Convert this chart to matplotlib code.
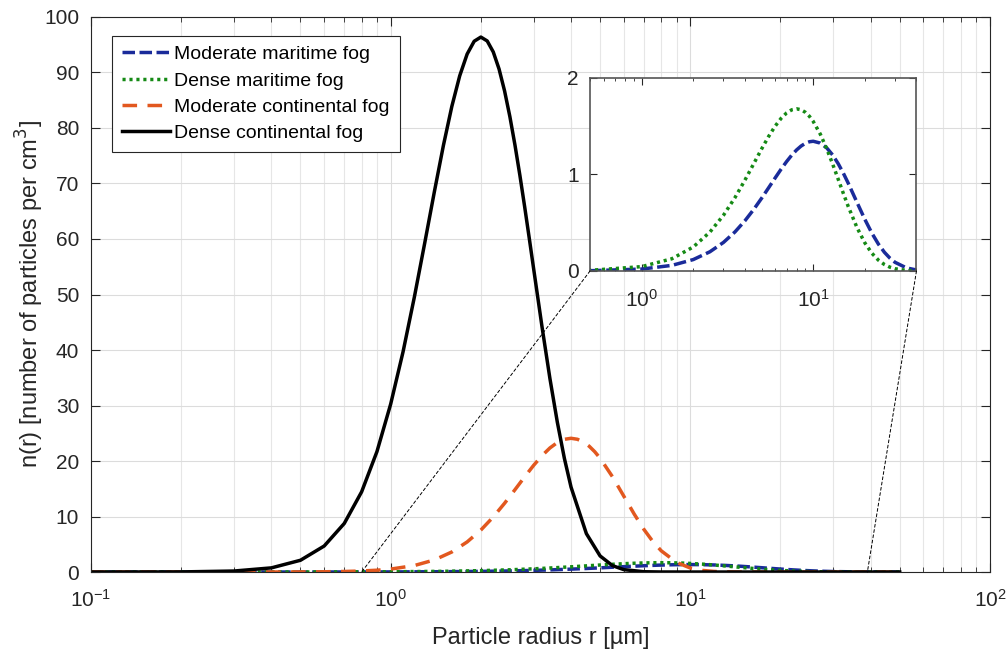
import matplotlib
matplotlib.use('Agg')
import matplotlib.pyplot as plt
from matplotlib.patches import ConnectionPatch

plt.rcParams['font.family'] = ['Liberation Sans', 'DejaVu Sans']
plt.rcParams['axes.unicode_minus'] = False

# Kurvendaten (Radius in µm, Teilchenzahl pro cm^3)
r_black = [0.1, 0.2, 0.3, 0.4, 0.5, 0.6, 0.7, 0.8, 0.9, 1.0,
           1.1, 1.2, 1.3, 1.4, 1.5, 1.6, 1.7, 1.8, 1.9, 2.0,
           2.1, 2.2, 2.3, 2.4, 2.5, 2.6, 2.7, 2.8, 2.9, 3.0,
           3.2, 3.4, 3.6, 3.8, 4.0, 4.5, 5.0, 5.5, 6.0, 7.0, 8.0, 10, 20, 50]
n_black = [0.00045, 0.0213, 0.180, 0.750, 2.12, 4.69, 8.75, 14.45, 21.70, 30.25,
           39.69, 49.56, 59.35, 68.59, 76.87, 83.88, 89.40, 93.32, 95.63, 96.38,
           95.68, 93.70, 90.63, 86.67, 82.03, 76.89, 71.44, 65.83, 60.20, 54.66,
           44.18, 34.88, 26.98, 20.48, 15.29, 6.92, 2.90, 1.15, 0.43, 0.054, 0.006, 0.0001, 0, 0]

r_orange = [0.1, 0.2, 0.3, 0.4, 0.5, 0.6, 0.7, 0.8, 0.9, 1.0,
            1.2, 1.4, 1.6, 1.8, 2.0, 2.2, 2.4, 2.6, 2.8, 3.0,
            3.2, 3.4, 3.6, 3.8, 4.0, 4.2, 4.4, 4.6, 4.8, 5.0,
            5.5, 6.0, 6.5, 7.0, 7.5, 8.0, 9, 10, 11, 12, 14, 16, 20, 50]
n_orange = [0.0, 0.0001, 0.0011, 0.0053, 0.0175, 0.045, 0.098, 0.187, 0.327, 0.530,
            1.171, 2.188, 3.612, 5.424, 7.561, 9.924, 12.391, 14.839, 17.149, 19.218,
            20.970, 22.350, 23.331, 23.907, 24.094, 23.919, 23.425, 22.658, 21.669, 20.508,
            17.162, 13.664, 10.433, 7.688, 5.494, 3.822, 1.729, 0.726, 0.287, 0.108, 0.0136, 0.0015, 0.0, 0.0]

r_mar = [0.1, 0.2, 0.5, 1.0, 1.5, 2.0, 2.5, 3.0, 3.5, 4.0, 4.5, 5.0, 5.5, 6.0, 6.5,
         7.0, 7.5, 8.0, 8.5, 9.0, 9.5, 10, 11, 12, 13, 14, 15, 16, 18, 20,
         22, 24, 26, 28, 30, 35, 40, 45, 50]
n_green = [0.0001, 0.0005, 0.0068, 0.0453, 0.1268, 0.2491, 0.4033, 0.5779, 0.7606, 0.9414,
           1.1112, 1.2636, 1.3944, 1.5007, 1.5817, 1.6379, 1.6701, 1.6804, 1.6709, 1.6444,
           1.6034, 1.5503, 1.4182, 1.2654, 1.1058, 0.9492, 0.8024, 0.6693, 0.4501, 0.2917,
           0.1834, 0.1125, 0.0675, 0.0398, 0.0232, 0.0056, 0.0013, 0.0003, 0.0001]
n_blue = [0.0, 0.0002, 0.0029, 0.0200, 0.0581, 0.1185, 0.1993, 0.2964, 0.4051, 0.5205,
          0.6378, 0.7531, 0.8627, 0.9640, 1.0549, 1.1341, 1.2006, 1.2541, 1.2947, 1.3228,
          1.3390, 1.3443, 1.3255, 1.2748, 1.2007, 1.1110, 1.0123, 0.9101, 0.7112, 0.5354,
          0.3911, 0.2787, 0.1944, 0.1333, 0.0900, 0.0319, 0.0106, 0.0034, 0.0010]

labels = ['Moderate maritime fog', 'Dense maritime fog',
          'Moderate continental fog', 'Dense continental fog']

# Farben und Linienstile
BLUE = '#1a2b9a'
GREEN = '#158a15'
ORANGE = '#e2581f'
BLACK = 'black'
AXIS_COLOR = '#262626'
LW = 2.5
TICK_FS = 15

fig = plt.figure(figsize=(10.06, 6.53), dpi=100)
ax = fig.add_axes([0.0905, 0.124, 0.8935, 0.850])

ax.plot(r_mar, n_blue, color=BLUE, lw=LW, ls=(0, (3.6, 1.3)), label=labels[0])
ax.plot(r_mar, n_green, color=GREEN, lw=LW, ls=(0, (0.9, 1.1)), label=labels[1])
ax.plot(r_orange, n_orange, color=ORANGE, lw=LW, ls=(0, (4.2, 3.0)), label=labels[2])
ax.plot(r_black, n_black, color=BLACK, lw=LW, label=labels[3])

ax.set_xscale('log')
ax.set_xlim(0.1, 100)
ax.set_ylim(0, 100)
ax.set_yticks(range(0, 101, 10))
ax.grid(True, which='major', color='#dcdcdc', lw=0.8)
ax.grid(True, which='minor', axis='x', color='#e6e6e6', lw=0.8)
ax.tick_params(which='both', direction='in', top=True, right=True,
               colors=AXIS_COLOR, labelsize=TICK_FS)
ax.tick_params(axis='y', which='major', length=6.5, pad=8.5)
ax.tick_params(axis='x', which='major', length=6.5, pad=12)
ax.tick_params(which='minor', length=3.5)
for s in ax.spines.values():
    s.set_color(AXIS_COLOR)
    s.set_linewidth(0.8)

ax.set_xlabel('Particle radius r [µm]', fontsize=17, color=AXIS_COLOR, labelpad=12)
ax.set_ylabel('n(r) [number of particles per cm$^3$]', fontsize=17, color=AXIS_COLOR, labelpad=-1)

leg = ax.legend(loc='upper left', bbox_to_anchor=(0.0235, 0.966), borderaxespad=0,
                fontsize=14, handlelength=2.5, handletextpad=0.2, labelspacing=0.45,
                fancybox=False, edgecolor=AXIS_COLOR, framealpha=1, borderpad=0.5)
leg.get_frame().set_linewidth(0.8)

# Inset mit Zoom auf die maritimen Nebel
axin = fig.add_axes([0.5865, 0.585, 0.3245, 0.2956])
axin.plot(r_mar, n_blue, color=BLUE, lw=LW, ls=(0, (3.6, 1.3)))
axin.plot(r_mar, n_green, color=GREEN, lw=LW, ls=(0, (0.9, 1.1)))
axin.set_xscale('log')
axin.set_xlim(0.5, 40)
axin.set_ylim(0, 2)
axin.set_yticks([0, 1, 2])
axin.tick_params(which='both', direction='in', top=True, right=True,
                 colors=AXIS_COLOR, labelsize=TICK_FS)
axin.tick_params(axis='x', which='major', length=5, pad=13)
axin.tick_params(axis='y', which='major', length=5, pad=8)
axin.tick_params(which='minor', length=2.5)
for s in axin.spines.values():
    s.set_color('#555555')
    s.set_linewidth(1.2)

# Verbindungslinien vom Inset zur x-Achse
for xi, xm in [(0.5, 0.8), (40, 39)]:
    con = ConnectionPatch(xyA=(xi, 0), coordsA=axin.transData,
                          xyB=(xm, 0), coordsB=ax.transData,
                          color='black', lw=0.7, ls=(0, (3, 2.5)))
    fig.add_artist(con)

plt.savefig('out.png', dpi=100, facecolor='white')
